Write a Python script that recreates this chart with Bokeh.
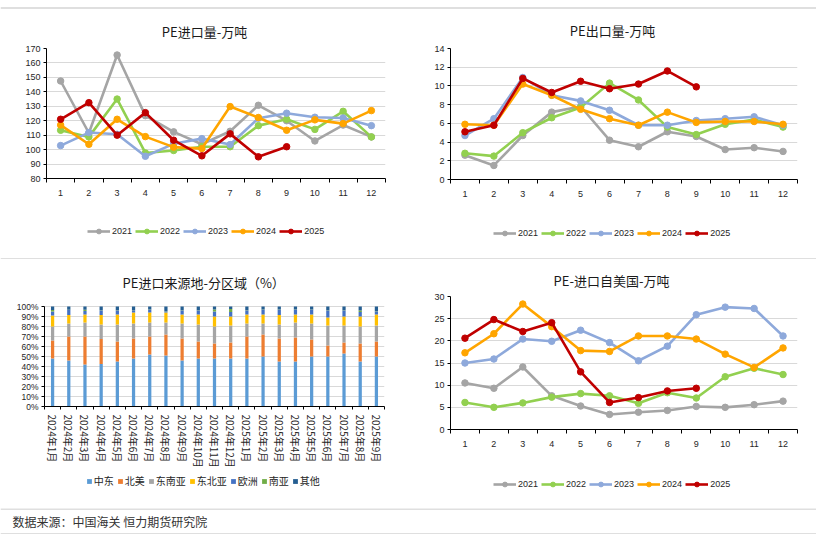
from bokeh.plotting import figure
from bokeh.models import (FixedTicker, Legend, LegendItem, Span, Title,
                          ColumnDataSource, PrintfTickFormatter, Range1d)
from bokeh.layouts import column, row
from bokeh.embed import file_html
from bokeh.resources import INLINE
from bokeh.core.properties import value

# ---------------- data ----------------
months = list(range(1, 13))
years = ["2021", "2022", "2023", "2024", "2025"]
year_colors = ["#A5A5A5", "#92D050", "#8EA9DB", "#FFA500", "#C00000"]

# PE import volume (10k t)
import_2021 = [147.5, 111.5, 165.5, 123.5, 112.3, 103.7, 112.7, 130.7, 120.0, 106.0, 117.0, 108.8]
import_2022 = [113.4, 108.8, 135.0, 97.7, 99.4, 102.0, 102.0, 116.6, 121.0, 114.0, 126.5, 108.8]
import_2023 = [102.8, 111.8, 110.6, 95.4, 104.0, 107.6, 103.5, 121.7, 125.2, 122.4, 121.9, 116.6]
import_2024 = [117.0, 103.7, 121.0, 109.0, 101.7, 100.7, 129.8, 122.2, 113.4, 120.6, 118.0, 127.0]
import_2025 = [121.0, 132.5, 110.0, 125.6, 106.5, 95.7, 110.9, 95.0, 102.0]

# PE export volume (10k t)
export_2021 = [2.6, 1.5, 4.7, 7.2, 7.8, 4.2, 3.5, 5.1, 4.6, 3.2, 3.4, 3.0]
export_2022 = [2.8, 2.5, 5.0, 6.6, 7.7, 10.3, 8.5, 5.6, 4.8, 5.9, 6.4, 5.6]
export_2023 = [4.7, 6.5, 10.9, 9.0, 8.4, 7.4, 5.8, 5.8, 6.3, 6.5, 6.7, 5.8]
export_2024 = [5.9, 5.8, 10.2, 9.0, 7.5, 6.5, 5.8, 7.2, 6.1, 6.2, 6.2, 5.9]
export_2025 = [5.1, 5.8, 10.8, 9.3, 10.5, 9.7, 10.2, 11.6, 9.9]

# PE import from USA (10k t)
us_2021 = [10.5, 9.3, 14.1, 7.6, 5.3, 3.4, 3.9, 4.3, 5.2, 5.0, 5.6, 6.4]
us_2022 = [6.1, 5.0, 6.0, 7.3, 8.1, 7.6, 5.9, 8.3, 7.1, 11.9, 13.8, 12.4]
us_2023 = [15.0, 15.9, 20.4, 19.9, 22.4, 19.6, 15.5, 18.8, 25.9, 27.6, 27.3, 21.1]
us_2024 = [17.3, 21.6, 28.3, 23.2, 17.8, 17.6, 21.1, 21.1, 20.4, 17.0, 14.0, 18.4]
us_2025 = [20.6, 24.8, 22.1, 24.1, 13.0, 6.1, 7.2, 8.7, 9.3]

# PE import origin share by region (%)
src_months = ["2024年1月", "2024年2月", "2024年3月", "2024年4月", "2024年5月", "2024年6月",
              "2024年7月", "2024年8月", "2024年9月", "2024年10月", "2024年11月", "2024年12月",
              "2025年1月", "2025年2月", "2025年3月", "2025年4月", "2025年5月", "2025年6月",
              "2025年7月", "2025年8月", "2025年9月"]
regions = ["中东", "北美", "东南亚", "东北亚", "欧洲", "南亚", "其他"]
region_colors = ["#5B9BD5", "#ED7D31", "#A5A5A5", "#FFC000", "#4472C4", "#70AD47", "#255E91"]
share_me = [48, 46, 42, 42.5, 45, 48, 52, 51, 46, 48, 48, 48, 48, 50, 45, 45, 50, 50, 53, 45, 50]
share_na = [18, 24, 28, 25, 20, 20, 18, 21, 22, 17, 15, 16, 22, 22, 23, 24, 17, 11, 11, 18, 15]
share_sea = [14, 13, 14, 14.5, 17, 15, 14, 12, 15, 17, 17, 17, 13, 11, 14, 15, 16, 20, 17, 17, 16]
share_nea = [11, 8.5, 8, 9.5, 10, 11, 10, 10, 9, 10, 10, 9, 9, 9, 9.5, 8, 9, 8, 9, 10, 11]
share_eu = [4, 5, 3.5, 4.5, 4, 2.3, 2.7, 1.3, 4, 4, 5, 4.5, 4, 4.7, 5.3, 4.7, 4.7, 7, 6, 4.5, 3]
share_sa = [1.5, 0.3, 1.3, 0.3, 0.3, 0.3, 0.3, 0.3, 0.3, 0.3, 2, 3, 0.3, 0.3, 0.3, 0.3, 0.3, 0.3, 0.3, 1.5, 0.3]
share_other = [3.5, 3.2, 3.2, 3.7, 3.7, 3.4, 3.0, 4.4, 3.7, 3.7, 3.0, 2.5, 3.7, 3.0, 2.9, 3.0, 3.0, 3.7, 3.7, 4.0, 4.7]

titles = ["PE进口量-万吨", "PE出口量-万吨", "PE进口来源地-分区域（%）", "PE-进口自美国-万吨"]
footer_text = "数据来源：中国海关 恒力期货研究院"

# ---------------- styling helpers ----------------
CJK = "Noto Sans CJK SC"
NUM = "Liberation Sans"
TXT = "#262626"
GRID = "#D9D9D9"
LINE = "#BFBFBF"
W = 816
LW, RW = 410, 406
NAN = float("nan")


def base_fig(fw, fh, bl, br, bt, bb, xr, yr):
    p = figure(frame_width=fw, frame_height=fh, output_backend="svg", toolbar_location=None,
               x_range=xr, y_range=yr, min_border_left=bl, min_border_right=br,
               min_border_top=bt, min_border_bottom=bb)
    p.outline_line_color = None
    p.background_fill_color = "white"
    p.border_fill_color = "white"
    p.xgrid.grid_line_color = None
    p.ygrid.grid_line_color = GRID
    p.ygrid.grid_line_width = 1
    for ax in (p.xaxis[0], p.yaxis[0]):
        ax.axis_line_color = "black"
        ax.axis_line_width = 1
        ax.major_label_text_color = TXT
        ax.major_label_text_font = NUM
        ax.major_label_text_font_size = "9px"
    p.yaxis.major_tick_line_color = "black"
    p.yaxis.major_tick_out = 3
    p.yaxis.major_tick_in = 0
    p.yaxis.minor_tick_line_color = None
    p.yaxis.major_label_standoff = 3
    p.xaxis.major_tick_line_color = None
    p.xaxis.major_tick_out = 0
    p.xaxis.major_tick_in = 0
    p.xaxis.minor_tick_line_color = "black"
    p.xaxis.minor_tick_out = 4
    p.xaxis.minor_tick_in = 0
    return p


def set_title(p, text, offset, standoff):
    p.title = Title(text=text, align="left", offset=offset, vertical_align="bottom",
                    standoff=standoff, text_font=CJK, text_font_size="13px",
                    text_font_style="normal", text_color="#1A1A1A")


def band_fig(h, line_ys):
    s = figure(frame_width=W, frame_height=h, output_backend="svg", toolbar_location=None,
               x_range=Range1d(0, W), y_range=Range1d(0, h),
               x_axis_location=None, y_axis_location=None,
               min_border_left=0, min_border_right=0, min_border_top=0, min_border_bottom=0)
    s.outline_line_color = None
    s.xgrid.visible = False
    s.ygrid.visible = False
    s.background_fill_color = "white"
    s.border_fill_color = "white"
    for yl in line_ys:
        s.add_layout(Span(location=yl, dimension="width", line_color=LINE, line_width=1))
    return s


def add_titles(s, entries):
    for text, x, y in entries:
        s.text(x=[x], y=[y], text=[text], text_font=value(CJK), text_font_size="13px",
               text_color="#1A1A1A", text_align="center", text_baseline="middle")


def make_legend(items, loc, gw, gh, font, size):
    return Legend(items=items, orientation="horizontal", location=loc,
                  border_line_color=None, background_fill_alpha=0, padding=0, margin=0,
                  spacing=3, label_standoff=2, glyph_width=gw, glyph_height=gh,
                  label_height=12, label_text_font=font, label_text_font_size=size,
                  label_text_color=TXT)


def year_legend_items(s):
    # legend-only renderers (a single NaN point each, nothing is drawn in the band)
    items = []
    for yr, col in zip(years, year_colors):
        r1 = s.line(x=[NAN], y=[NAN], line_color=col, line_width=2.6)
        r2 = s.scatter(x=[NAN], y=[NAN], marker="circle", size=6.5, fill_color=col, line_color=col)
        items.append(LegendItem(label=yr, renderers=[r1, r2]))
    return items


def line_chart(fw, fh, bl, br, bt, bb, ymin, ymax, ystep, series):
    p = base_fig(fw, fh, bl, br, bt, bb, Range1d(0.5, 12.5), Range1d(ymin, ymax))
    p.xaxis.ticker = FixedTicker(ticks=months, minor_ticks=[m - 0.5 for m in months] + [12.5])
    p.yaxis.ticker = FixedTicker(ticks=list(range(ymin, ymax + 1, ystep)))
    p.xaxis.major_label_standoff = 7
    for col, vals in zip(year_colors, series):
        xs = months[:len(vals)]
        p.line(xs, vals, line_color=col, line_width=2.6)
        p.scatter(xs, vals, marker="circle", size=6.5, fill_color=col, line_color=col)
    return p


# ---------------- row 1 ----------------
head1 = band_fig(40, [32.5])
add_titles(head1, [(titles[0], 204, 9), (titles[1], 612, 10)])

p1 = line_chart(339, 130, 46, LW - 46 - 339, 8, 27, 80, 170, 10,
                [import_2021, import_2022, import_2023, import_2024, import_2025])
p2 = line_chart(347, 131, 40, RW - 40 - 347, 8, 26, 0, 14, 2,
                [export_2021, export_2022, export_2023, export_2024, export_2025])

leg1 = band_fig(54, [0.5])
items1 = year_legend_items(leg1)
leg1.add_layout(make_legend(items1, (87, 22), 23, 12, NUM, "9px"))
leg1.add_layout(make_legend(items1, (493, 20.3), 23, 12, NUM, "9px"))

# ---------------- row 2 ----------------
xpos = list(range(1, len(src_months) + 1))
keys = ["me", "na", "sea", "nea", "eu", "sa", "other"]
src = ColumnDataSource(dict(x=xpos, me=share_me, na=share_na, sea=share_sea, nea=share_nea,
                            eu=share_eu, sa=share_sa, other=share_other))
# frame tops of the two row-2 charts are aligned by the layout; the share chart keeps
# headroom above 100% and its axis is bounded to 0..100
p3 = base_fig(340, 110, 44, LW - 44 - 340, 37, 64, Range1d(0.5, len(src_months) + 0.5), Range1d(0, 110))
p3.vbar_stack(keys, x="x", width=0.2, source=src, color=region_colors, line_color=None)
p3.xaxis.ticker = FixedTicker(ticks=xpos, minor_ticks=[v - 0.5 for v in xpos] + [xpos[-1] + 0.5])
p3.xaxis.major_label_overrides = {v: lab for v, lab in zip(xpos, src_months)}
p3.xaxis.major_label_orientation = "vertical"
p3.xaxis.major_label_text_font = CJK
p3.xaxis.major_label_text_font_size = "10px"
p3.xaxis.major_label_standoff = 5
p3.xaxis.minor_tick_out = 3
p3.yaxis.ticker = FixedTicker(ticks=list(range(0, 101, 10)))
p3.yaxis.bounds = (0, 100)
p3.yaxis.formatter = PrintfTickFormatter(format="%d%%")
p3.yaxis.major_label_text_font_size = "8.5px"
set_title(p3, titles[2], 78, 9)

p4 = line_chart(347, 133, 40, RW - 40 - 347, 37, 41, 0, 30, 5,
                [us_2021, us_2022, us_2023, us_2024, us_2025])
set_title(p4, titles[3], 103, 13)

leg2 = band_fig(38, [])
bar_items = []
for name, col in zip(regions, region_colors):
    rb = leg2.vbar(x=[NAN], top=[NAN], width=1, fill_color=col, line_color=None)
    bar_items.append(LegendItem(label=name, renderers=[rb]))
leg2.add_layout(make_legend(bar_items, (85.7, 19.7), 6, 6, CJK, "10px"))
items2 = year_legend_items(leg2)
leg2.add_layout(make_legend(items2, (493, 18.3), 23, 12, NUM, "9px"))

# ---------------- footer ----------------
pf = band_fig(26, [25.5, 0.5])
pf.text(x=[12], y=[13], text=[footer_text], text_font=value(CJK), text_font_size="12px",
        text_color="#333333", text_baseline="middle", text_align="left")

layout = column(head1, row(p1, p2), leg1, row(p3, p4), leg2, pf)

open("out.html", "w").write(file_html(layout, INLINE))
